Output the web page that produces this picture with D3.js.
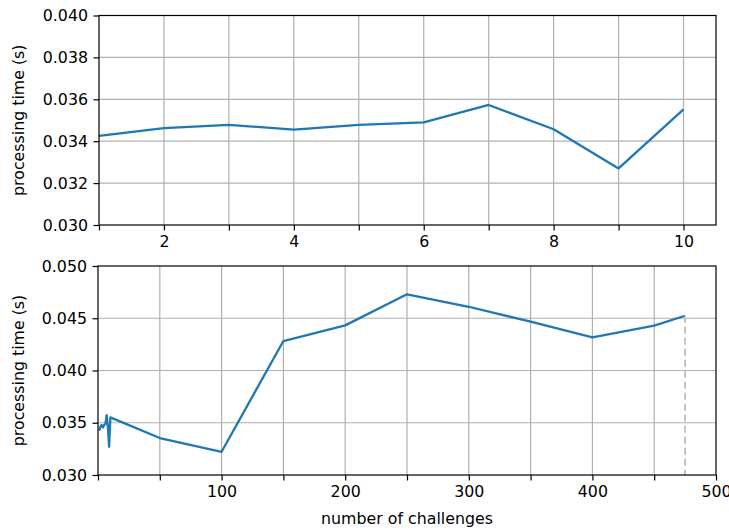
<!DOCTYPE html>
<html>
<head>
<meta charset="utf-8">
<script src="https://cdn.jsdelivr.net/npm/d3@7"></script>
<style>
  body { margin: 0; background: #fff; }
  svg text { font-family: "DejaVu Sans", sans-serif; fill: #000; }
</style>
</head>
<body>
<div id="chart"></div>
<script>
// Data
const fewChallenges = [1, 2, 3, 4, 5, 6, 7, 8, 9, 10];
const fewTimes = [0.03425, 0.03462, 0.03478, 0.03455, 0.03478, 0.03490, 0.03573, 0.03457, 0.03270, 0.03552];
const manyChallenges = [50, 100, 150, 200, 250, 300, 350, 400, 450, 475];
const manyTimes = [0.03354, 0.03222, 0.04282, 0.04432, 0.04729, 0.04610, 0.04467, 0.04318, 0.04429, 0.04524];

const topXTicks = d3.range(1, 11);
const topYTicks = [0.030, 0.032, 0.034, 0.036, 0.038, 0.040];
const botXTicks = d3.range(0, 501, 50);
const botYTicks = [0.030, 0.035, 0.040, 0.045, 0.050];

const W = 729, H = 530;
const fontSize = 15.8, tickLen = 5.5, tickPad = 5.5;
const blue = "#1f77b4";

const svg = d3.select("#chart").append("svg")
  .attr("width", W).attr("height", H);

function panel(opts) {
  const { left, right, top, bottom, xDomain, yDomain, xTicks, xFmt, yTicks, xs, ys } = opts;
  const x = d3.scaleLinear().domain(xDomain).range([left, right]);
  const y = d3.scaleLinear().domain(yDomain).range([bottom, top]);
  const g = svg.append("g");

  // grid
  g.append("g").selectAll("line.vg")
    .data(xTicks.filter(t => t > xDomain[0] && t < xDomain[1]))
    .join("line")
      .attr("x1", d => x(d)).attr("x2", d => x(d))
      .attr("y1", top).attr("y2", bottom)
      .attr("stroke", "#b0b0b0").attr("stroke-width", 1.2);
  g.append("g").selectAll("line.hg")
    .data(yTicks.filter(t => t > yDomain[0] && t < yDomain[1]))
    .join("line")
      .attr("x1", left).attr("x2", right)
      .attr("y1", d => y(d)).attr("y2", d => y(d))
      .attr("stroke", "#b0b0b0").attr("stroke-width", 1.2);

  // the line
  const pts = xs.map((d, i) => [d, ys[i]]);
  g.append("path")
    .datum(pts)
    .attr("fill", "none")
    .attr("stroke", blue)
    .attr("stroke-width", 2.3)
    .attr("stroke-linejoin", "round")
    .attr("d", d3.line().x(d => x(d[0])).y(d => y(d[1])));

  if (opts.marker) {
    const last = pts[pts.length - 1];
    g.append("line")
      .attr("x1", x(last[0])).attr("x2", x(last[0]))
      .attr("y1", y(last[1])).attr("y2", bottom)
      .attr("stroke", "#bdbdbd").attr("stroke-width", 1.8)
      .attr("stroke-dasharray", "7,4");
  }

  // axes
  const xAxis = d3.axisBottom(x).tickValues(xTicks).tickFormat(xFmt)
    .tickSize(tickLen).tickPadding(tickPad).tickSizeOuter(0);
  const gx = g.append("g").attr("transform", `translate(0,${bottom})`).call(xAxis);
  const yAxis = d3.axisLeft(y).tickValues(yTicks).tickFormat(d3.format(".3f"))
    .tickSize(tickLen).tickPadding(tickPad).tickSizeOuter(0);
  const gy = g.append("g").attr("transform", `translate(${left},0)`).call(yAxis);
  [gx, gy].forEach(a => {
    a.select(".domain").remove();
    a.selectAll(".tick line").attr("stroke", "#000").attr("stroke-width", 1.2);
    a.selectAll(".tick text").attr("font-size", fontSize).attr("font-family", "DejaVu Sans");
  });

  // frame
  g.append("rect")
    .attr("x", left).attr("y", top)
    .attr("width", right - left).attr("height", bottom - top)
    .attr("fill", "none").attr("stroke", "#000").attr("stroke-width", 1.2);

  // y label
  g.append("text")
    .attr("transform", `translate(24,${(top + bottom) / 2}) rotate(-90)`)
    .attr("text-anchor", "middle")
    .attr("font-size", fontSize)
    .text("processing time (s)");
  return { x, y };
}

panel({
  left: 99, right: 716, top: 15.5, bottom: 225,
  xDomain: [1, 10.5], yDomain: [0.030, 0.040],
  xTicks: topXTicks, xFmt: d => d % 2 === 0 ? d : "",
  yTicks: topYTicks,
  xs: fewChallenges, ys: fewTimes
});

panel({
  left: 98, right: 716, top: 266, bottom: 475,
  xDomain: [0, 500], yDomain: [0.030, 0.050],
  xTicks: botXTicks, xFmt: d => (d % 100 === 0 && d > 0) ? d : "",
  yTicks: botYTicks,
  xs: fewChallenges.concat(manyChallenges), ys: fewTimes.concat(manyTimes),
  marker: true
});

svg.append("text")
  .attr("x", 407).attr("y", 524)
  .attr("text-anchor", "middle")
  .attr("font-size", fontSize)
  .text("number of challenges");
</script>
</body>
</html>
